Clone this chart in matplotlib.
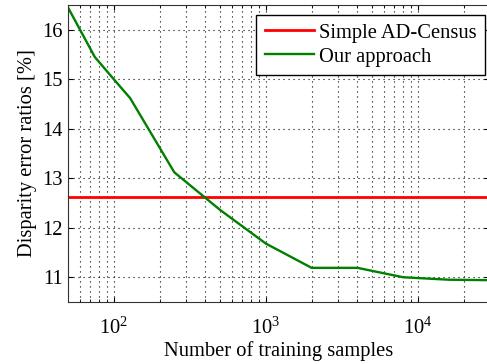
import numpy as np
import matplotlib
matplotlib.use("Agg")
import matplotlib.pyplot as plt
from matplotlib.ticker import LogLocator, NullFormatter

# valores
muestras = [50, 75, 100, 128, 250, 500, 1000, 2000, 4000, 8000, 16000, 32000]
error_nuestro = [16.45, 15.45, 15.0, 14.62, 13.12, 12.36, 11.68, 11.19, 11.19, 11.0, 10.95, 10.94]
error_census = 12.63
etiquetas = ["Simple AD-Census", "Our approach"]

plt.rcParams['font.family'] = ['Liberation Serif', 'DejaVu Serif']
plt.rcParams['mathtext.fontset'] = 'custom'
plt.rcParams['mathtext.rm'] = 'Liberation Serif'
plt.rcParams['lines.scale_dashes'] = False
fs = 14.8

fig = plt.figure(figsize=(4.87, 3.64), dpi=100)
ax = fig.add_axes([68 / 487, 1 - 302 / 364, (488.5 - 68) / 487, (302 - 5) / 364])

ax.axhline(error_census, color='#ff0000', lw=2, label=etiquetas[0])
ax.plot(muestras, error_nuestro, color='#008000', lw=1.7, label=etiquetas[1])

ax.set_xscale('log')
ax.set_xlim(50, 29100)
ax.set_ylim(10.5, 16.5)
ax.set_yticks([11, 12, 13, 14, 15, 16])
ax.xaxis.set_minor_locator(LogLocator(base=10, subs=np.arange(2, 10)))
ax.xaxis.set_minor_formatter(NullFormatter())

punteado = (0, (0.8, 2.8))
ax.grid(True, which='major', color='k', ls=punteado, lw=0.8)
ax.grid(True, which='minor', axis='x', color='k', ls=punteado, lw=0.8)
ax.tick_params(which='both', direction='in', top=True, right=True, labelsize=fs)
ax.tick_params(axis='x', pad=11)
for s in ax.spines.values():
    s.set_color('#333333')

ax.set_xlabel('Number of training samples', fontsize=fs, labelpad=2)
ax.set_ylabel('Disparity error ratios [%]', fontsize=fs, labelpad=4)

leg = ax.legend(loc='upper right', bbox_to_anchor=(485 / 487, 1 - 15 / 364),
                bbox_transform=fig.transFigure, borderaxespad=0,
                fancybox=False, framealpha=1, edgecolor='k',
                fontsize=fs, handlelength=2.4, handletextpad=0.25,
                labelspacing=0.22, borderpad=0.4)
leg.get_frame().set_linewidth(1.0)

fig.savefig('out.png', dpi=100)
